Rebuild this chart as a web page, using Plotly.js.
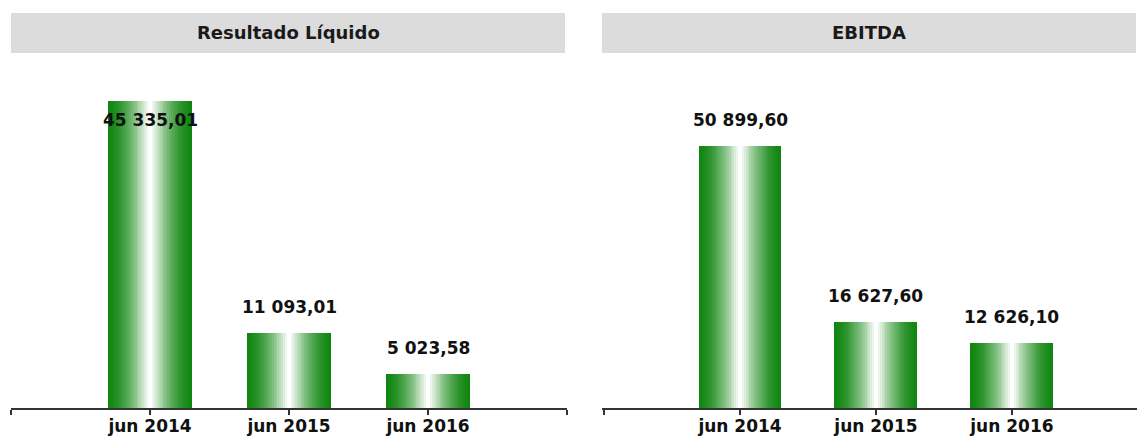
<!DOCTYPE html>
<html>
<head>
<meta charset="utf-8">
<script src="https://cdn.plot.ly/plotly-3.0.1.min.js"></script>
<style>html,body{margin:0;padding:0;background:#fff;}#chart{width:1137px;height:439px;}</style>
</head>
<body>
<div id="chart"></div>
<script>
// ---- data ----
const categories = ['jun 2014', 'jun 2015', 'jun 2016'];
const resultadoLiquido = [45335.01, 11093.01, 5023.58];
const ebitda = [50899.60, 16627.60, 12626.10];
const panelTitles = ['Resultado Líquido', 'EBITDA'];

// ---- styling ----
const W = 1137, H = 439;
const FONT = 'DejaVu Sans, Verdana, sans-serif';
const dark = [16, 134, 16];
const white = [255, 255, 255];
const STEPS = 22;
const BAR_W = 0.61;
const labelPlace = [['inside', 'outside', 'outside'], ['outside', 'outside', 'outside']];

function fmt(v) {
  const s = v.toFixed(2).split('.');
  const int = s[0].replace(/\B(?=(\d{3})+(?!\d))/g, ' ');
  return int + ',' + s[1];
}
function lerp(a, b, t) { return a.map((x, i) => Math.round(x + (b[i] - x) * t)); }

const xIdx = categories.map((_, i) => i);
const traces = [];
[resultadoLiquido, ebitda].forEach((vals, p) => {
  const xa = p === 0 ? 'x' : 'x2';
  const ya = p === 0 ? 'y' : 'y2';
  for (let k = 0; k < STEPS; k++) {
    const t = k / (STEPS - 1);
    const c = lerp(dark, white, Math.pow(t, 1.6));
    traces.push({
      type: 'bar', x: xIdx, y: vals, xaxis: xa, yaxis: ya,
      width: BAR_W * (1 - k / STEPS),
      marker: { color: 'rgb(' + c.join(',') + ')', line: { width: 0 } },
      hoverinfo: 'skip', showlegend: false
    });
  }
});

const annotations = [];
[resultadoLiquido, ebitda].forEach((vals, p) => {
  vals.forEach((v, i) => {
    const inside = labelPlace[p][i] === 'inside';
    annotations.push({
      xref: p === 0 ? 'x' : 'x2', yref: p === 0 ? 'y' : 'y2',
      x: xIdx[i], y: v, text: '<b>' + fmt(v) + '</b>', showarrow: false,
      yanchor: inside ? 'top' : 'bottom', yshift: inside ? -7 : 14,
      font: { family: FONT, size: 17, color: '#111' }
    });
  });
});

const px = v => v / W, py = v => 1 - v / H;
const bars = [[11, 565], [602, 1136]];
const shapes = bars.map(b => ({
  type: 'rect', xref: 'paper', yref: 'paper',
  x0: px(b[0]), x1: px(b[1]), y0: py(53), y1: py(13),
  fillcolor: '#dcdcdc', line: { width: 0 }, layer: 'below'
}));
bars.forEach((b, i) => annotations.push({
  xref: 'paper', yref: 'paper', x: px((b[0] + b[1]) / 2), y: py(32),
  xanchor: 'center', yanchor: 'middle', showarrow: false,
  text: '<b>' + panelTitles[i] + '</b>',
  font: { family: FONT, size: 18, color: '#1a1a1a' }
}));

const xaxisBase = {
  type: 'linear', tickmode: 'array',
  tickvals: [-1].concat(xIdx, [3]), ticktext: [''].concat(categories.map(c => '<b>' + c + '</b>'), ['']),
  showline: true, linecolor: '#333', linewidth: 2,
  ticks: 'outside', ticklen: 5, tickwidth: 2, tickcolor: '#333',
  ticklabelstandoff: -3,
  showgrid: false, zeroline: false, fixedrange: true,
  tickfont: { family: FONT, size: 17, color: '#111' }
};
const yDomain = [31 / H, 1 - 60 / H];
const layout = {
  width: W, height: H, margin: { l: 0, r: 0, t: 0, b: 0 },
  paper_bgcolor: '#fff', plot_bgcolor: '#fff',
  barmode: 'overlay', bargap: 0,
  xaxis: Object.assign({}, xaxisBase, { domain: [px(11), px(567)], range: [-1, 3], anchor: 'y' }),
  xaxis2: Object.assign({}, xaxisBase, { domain: [px(602), 1], range: [-1.015, 2.92], anchor: 'y2' }),
  yaxis: { domain: yDomain, range: [0, 51470], visible: false, fixedrange: true },
  yaxis2: { domain: yDomain, range: [0, 67570], visible: false, fixedrange: true, anchor: 'x2' },
  shapes: shapes, annotations: annotations, showlegend: false
};
Plotly.newPlot('chart', traces, layout, { displayModeBar: false, staticPlot: true });
</script>
</body>
</html>
